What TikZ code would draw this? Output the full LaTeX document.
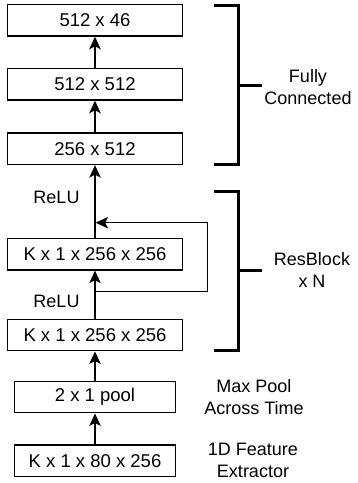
\documentclass[tikz,border=0pt]{standalone}
\usepackage{fontspec}
\setmainfont{Liberation Sans}
\usetikzlibrary{arrows.meta}
\begin{document}
\begin{tikzpicture}[x=1pt,y=-1pt,
  layer/.style={draw=black, line width=1.4pt, minimum height=31.5pt, inner sep=0pt, font=\fontsize{18.5}{21}\selectfont},
  wide/.style={layer, minimum width=175.4pt},
  narrow/.style={layer, minimum width=161pt},
  flow/.style={line width=1.4pt, -{Stealth[length=12.5pt,width=11.5pt,inset=3pt]}},
  brk/.style={line width=3pt},
  lbl/.style={font=\fontsize{18}{21.5}\selectfont, align=center, inner sep=0pt}]
\useasboundingbox (0,0) rectangle (357,483);
\node[wide] (fc3) at (95,20.3) {512 x 46};
\node[wide] (fc2) at (95,84.3) {512 x 512};
\node[wide] (fc1) at (95,148.7) {256 x 512};
\node[wide] (rb2) at (95,254.2) {K x 1 x 256 x 256};
\node[wide] (rb1) at (95,335) {K x 1 x 256 x 256};
\node[narrow] (pool) at (95,397) {2 x 1 pool};
\node[narrow] (feat) at (95,460.8) {K x 1 x 80 x 256};
\draw[flow] (feat) -- (pool);
\draw[flow] (pool) -- (rb1);
\draw[flow] (rb1) -- (rb2);
\draw[flow] (rb2) -- (fc1);
\draw[flow] (fc1) -- (fc2);
\draw[flow] (fc2) -- (fc3);
\coordinate (s1) at (95,291.7);
\coordinate (s2) at (207.3,291.7);
\coordinate (s3) at (207.3,222.7);
\coordinate (s4) at (95.6,222.7);
\draw[flow] (s1) -- (s2) -- (s3) -- (s4);
\node[lbl] (relu1) at (56.5,197) {ReLU};
\node[lbl] (relu2) at (56.5,301.7) {ReLU};
% brackets
\coordinate (b1a) at (214,5.5);
\coordinate (b1b) at (238,5.5);
\coordinate (b1c) at (238,164);
\coordinate (b1d) at (214,164);
\coordinate (b1m) at (238,85);
\coordinate (b1t) at (262,85);
\draw[brk] (b1a) -- (b1b) -- (b1c) -- (b1d);
\draw[brk] (b1m) -- (b1t);
\coordinate (b2a) at (214,191.5);
\coordinate (b2b) at (238,191.5);
\coordinate (b2c) at (238,350);
\coordinate (b2d) at (214,350);
\coordinate (b2m) at (238,270);
\coordinate (b2t) at (262,270);
\draw[brk] (b2a) -- (b2b) -- (b2c) -- (b2d);
\draw[brk] (b2m) -- (b2t);
\node[lbl] (fctext) at (308,87) {Fully\\Connected};
\node[lbl] (rbtext) at (312,270) {ResBlock\\x N};
\node[lbl] (pooltext) at (254,397) {Max Pool\\Across Time};
\node[lbl] (feattext) at (253,460.5) {1D Feature\\Extractor};
\end{tikzpicture}
\end{document}
